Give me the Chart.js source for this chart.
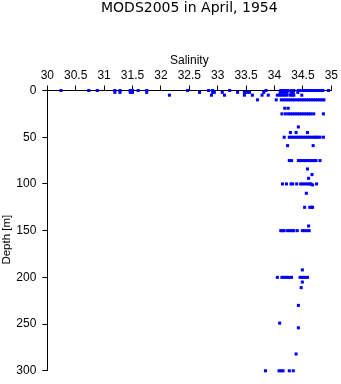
<!DOCTYPE html>
<html>
<head>
<meta charset="utf-8">
<script src="https://cdn.jsdelivr.net/npm/chart.js@4"></script>
<style>
  html, body { margin: 0; padding: 0; background: #ffffff; }
  #wrap { width: 341px; height: 384px; }
</style>
</head>
<body>
<div id="wrap"><canvas id="chart" width="341" height="384"></canvas></div>
<script>
// Salinity profile casts, April 1954 (MODS2005)
const chartTitle = 'MODS2005 in April, 1954';
const xAxisTitle = 'Salinity';
const yAxisTitle = 'Depth [m]';

// Observation depths [m]
const levels = [0, 2, 5, 10, 19, 25, 39, 45, 50, 59, 75, 84, 90, 94, 100, 101, 110, 125,
                145, 150, 192, 200, 205, 211, 230, 249, 254, 282, 300];

// Salinity readings observed at each depth above (same order)
const salinity = [
  [30.24, 30.73, 30.88, 31.19, 31.28, 31.46, 31.50, 31.60, 31.75, 32.47, 32.84, 32.91, 33.21, 33.85,
   34.11, 34.15, 34.19, 34.23, 34.29, 34.34, 34.42, 34.45, 34.50, 34.54, 34.58, 34.62, 34.66, 34.70,
   34.74, 34.78, 34.82, 34.85, 34.95],
  [31.19, 31.28, 31.46, 31.50, 31.75, 32.68, 32.91, 32.94, 33.08, 33.35, 33.47, 33.51, 33.56, 33.81,
   34.10, 34.14, 34.18, 34.22, 34.29, 34.33, 34.41],
  [32.15, 32.89, 33.12, 33.47, 33.61, 33.78, 33.89, 34.05, 34.09, 34.13, 34.17, 34.21, 34.27, 34.31,
   34.34, 34.48],
  [33.70, 34.03, 34.12, 34.16, 34.20, 34.24, 34.28, 34.32, 34.36, 34.40, 34.44, 34.48, 34.52, 34.56,
   34.60, 34.64, 34.68, 34.72, 34.76, 34.80, 34.84, 34.87],
  [34.18, 34.24],
  [34.13, 34.19, 34.24, 34.28, 34.32, 34.36, 34.40, 34.44, 34.48, 34.52, 34.56, 34.60, 34.64, 34.69, 34.86],
  [34.42],
  [34.28, 34.38, 34.58],
  [34.17, 34.26, 34.30, 34.34, 34.38, 34.42, 34.46, 34.50, 34.54, 34.58, 34.62, 34.66, 34.70, 34.73,
   34.76, 34.80, 34.86],
  [34.23, 34.68],
  [34.26, 34.30, 34.42, 34.46, 34.50, 34.54, 34.58, 34.62, 34.66, 34.70, 34.73, 34.80],
  [34.58],
  [34.66],
  [34.60],
  [34.14, 34.21, 34.29, 34.32, 34.39, 34.46, 34.50, 34.54, 34.58, 34.62, 34.64, 34.74],
  [34.67],
  [34.56],
  [34.53, 34.62, 34.65, 34.67],
  [34.60],
  [34.11, 34.14, 34.17, 34.23, 34.27, 34.31, 34.34, 34.40, 34.49, 34.53, 34.57, 34.61],
  [34.49],
  [34.05, 34.13, 34.17, 34.21, 34.25, 34.30, 34.45, 34.49, 34.53, 34.58],
  [34.49],
  [34.47],
  [34.42],
  [34.09],
  [34.42],
  [34.38],
  [33.84, 34.08, 34.11, 34.15, 34.26, 34.33]
];

const FONT = '"Liberation Sans", Arial, Helvetica, sans-serif';
const TITLE_FONT = '"DejaVu Sans", "Liberation Sans", sans-serif';

const points = [];
levels.forEach((depth, i) => {
  salinity[i].forEach(s => points.push({ x: s, y: depth }));
});

const axisGrid = {
  drawOnChartArea: false,
  drawTicks: true,
  tickLength: 5,
  color: '#000000',
  lineWidth: 1
};

// Vertical axis caption, drawn rotated beside the depth ticks, sitting a little below mid-axis
const depthCaption = {
  id: 'depthCaption',
  afterDraw(chart) {
    const { ctx, chartArea } = chart;
    ctx.save();
    ctx.translate(6.5, (chartArea.top + chartArea.bottom) / 2 + 9);
    ctx.rotate(-Math.PI / 2);
    ctx.fillStyle = '#000000';
    ctx.font = '11.5px ' + FONT;
    ctx.textAlign = 'center';
    ctx.textBaseline = 'middle';
    ctx.fillText(yAxisTitle, 0, 0);
    ctx.restore();
  }
};

new Chart(document.getElementById('chart'), {
  type: 'scatter',
  data: {
    datasets: [{
      data: points,
      backgroundColor: '#0000ff',
      borderWidth: 0,
      pointStyle: 'rect',
      pointRadius: 2.15,
      pointHoverRadius: 2.15,
      clip: false
    }]
  },
  options: {
    responsive: false,
    animation: false,
    devicePixelRatio: 1,
    events: [],
    layout: { padding: { left: 0, right: 8.7, top: 0, bottom: 8 } },
    plugins: {
      legend: { display: false },
      tooltip: { enabled: false },
      title: {
        display: true,
        text: chartTitle,
        fullSize: false,
        color: '#000000',
        font: { family: TITLE_FONT, size: 14, weight: 'normal', lineHeight: 1.2 },
        padding: { top: 0, bottom: 32.9 }
      }
    },
    scales: {
      x: {
        type: 'linear',
        position: 'top',
        min: 30,
        max: 35,
        ticks: {
          stepSize: 0.5,
          color: '#000000',
          font: { family: FONT, size: 12 },
          padding: 3,
          maxRotation: 0,
          autoSkip: false,
          callback: v => String(Math.round(v * 10) / 10)
        },
        grid: axisGrid,
        border: { display: true, color: '#000000', width: 1 },
        title: {
          display: true,
          text: xAxisTitle,
          color: '#000000',
          font: { family: FONT, size: 12 },
          padding: { top: 4, bottom: 0 }
        },
        afterFit(scale) { scale.height = 40.8; }
      },
      y: {
        type: 'linear',
        reverse: true,
        min: 0,
        max: 300,
        ticks: {
          stepSize: 50,
          color: '#000000',
          font: { family: FONT, size: 12 },
          padding: 6,
          autoSkip: false
        },
        grid: axisGrid,
        border: { display: true, color: '#000000', width: 1 },
        title: { display: false },
        afterFit(scale) { scale.width = 47.3; }
      }
    }
  },
  plugins: [depthCaption]
});
</script>
</body>
</html>
